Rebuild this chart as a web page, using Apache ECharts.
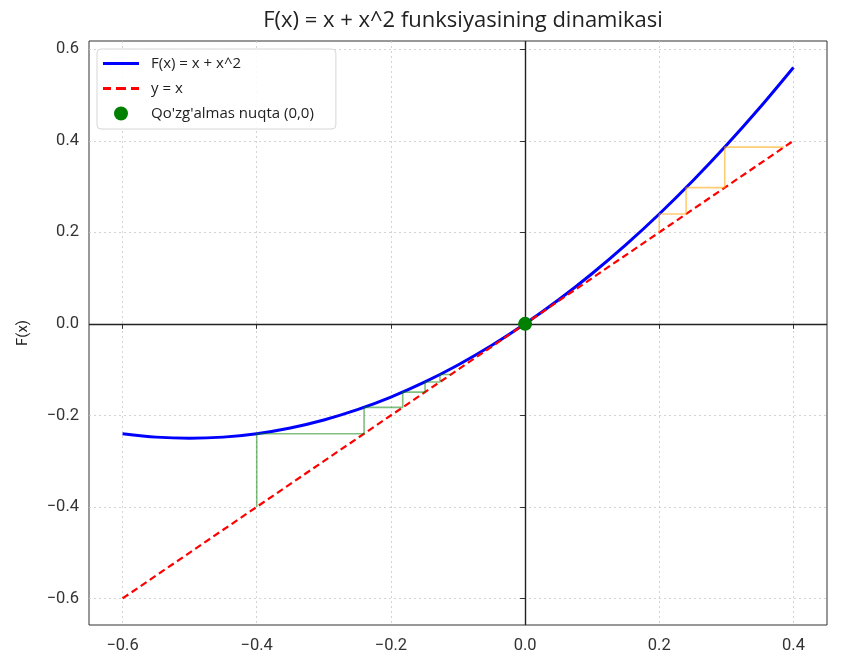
<!DOCTYPE html>
<html>
<head>
<meta charset="utf-8">
<script src="https://cdn.jsdelivr.net/npm/echarts@6/dist/echarts.min.js"></script>
<style>
  html, body { margin: 0; padding: 0; background: #fff; }
  #chart { width: 847px; height: 661px; }
</style>
</head>
<body>
<div id="chart"></div>
<script>
// F(x) = x + x^2
var curveX = [-0.6, -0.55, -0.5, -0.45, -0.4, -0.35, -0.3, -0.25, -0.2, -0.15, -0.1, -0.05, 0,
              0.05, 0.1, 0.15, 0.2, 0.25, 0.3, 0.35, 0.4];
var curveY = [-0.24, -0.2475, -0.25, -0.2475, -0.24, -0.2275, -0.21, -0.1875, -0.16, -0.1275, -0.09, -0.0475, 0,
              0.0525, 0.11, 0.1725, 0.24, 0.3125, 0.39, 0.4725, 0.56];
// y = x
var diagX = [-0.6, 0.4];
var diagY = [-0.6, 0.4];
// cobweb steps
var orangeX = [0.2, 0.2, 0.24, 0.24, 0.2976, 0.2976, 0.3862];
var orangeY = [0.2, 0.24, 0.24, 0.2976, 0.2976, 0.3862, 0.3862];
var greenX = [-0.4, -0.4, -0.24, -0.24, -0.1824, -0.1824, -0.1491, -0.1491, -0.1269, -0.1269, -0.1108];
var greenY = [-0.4, -0.24, -0.24, -0.1824, -0.1824, -0.1491, -0.1491, -0.1269, -0.1269, -0.1108, -0.1108];
var fixedPoint = [0, 0];
var xTicks = [-0.6, -0.4, -0.2, 0.0, 0.2, 0.4];
var yTicks = [-0.6, -0.4, -0.2, 0.0, 0.2, 0.4, 0.6];

var FONT = 'Roboto, "Open Sans", sans-serif';
var WIDE = '"Open Sans", Roboto, sans-serif';
var LINE_ICON = 'path://M0,0 L36,0 L36,3 L0,3 Z';
var DASH_ICON = 'path://M0,0 L8,0 L8,3 L0,3 Z M13,0 L23,0 L23,3 L13,3 Z M28,0 L36,0 L36,3 L28,3 Z';

function pairs(xs, ys) {
    return xs.map(function (x, i) { return [x, ys[i]]; });
}
function fmt(v) {
    return v.toFixed(1).replace('-', '\u2212');
}

var chart = echarts.init(document.getElementById('chart'), null, { renderer: 'canvas' });

var axisCommon = {
    type: 'value',
    axisLine: { show: false },
    axisTick: { show: true, length: 5, lineStyle: { color: '#333', width: 1 } },
    axisLabel: { color: '#333', fontSize: 16.5, fontFamily: FONT, formatter: fmt },
    splitLine: { show: true, lineStyle: { color: '#c8c8c8', type: [2, 3], width: 0.8 } }
};

var option = {
    animation: false,
    backgroundColor: '#fff',
    title: {
        text: 'F(x) = x + x^2 funksiyasining dinamikasi',
        left: 458, top: 5, textAlign: 'center',
        textStyle: { fontSize: 22, fontWeight: 'normal', color: '#222', fontFamily: WIDE }
    },
    grid: {
        left: 89, right: 20, top: 41, bottom: 36,
        show: true, borderColor: '#333', borderWidth: 1, backgroundColor: 'transparent'
    },
    legend: {
        orient: 'vertical', left: 97, top: 49,
        data: [
            { name: 'F(x) = x + x^2', icon: LINE_ICON },
            { name: 'y = x', icon: DASH_ICON },
            { name: "Qo'zg'almas nuqta (0,0)", icon: 'circle' }
        ],
        backgroundColor: 'rgba(255,255,255,0.85)',
        borderColor: '#d6d6d6', borderWidth: 1, borderRadius: 4,
        padding: [7, 22, 8, 6], itemGap: 10, itemWidth: 36, itemHeight: 14,
        textStyle: { fontSize: 15, color: '#222', fontFamily: WIDE, padding: [0, 0, 0, 7] }
    },
    xAxis: Object.assign({}, axisCommon, {
        min: -0.65, max: 0.45,
        axisTick: Object.assign({}, axisCommon.axisTick, { customValues: xTicks }),
        axisLabel: Object.assign({}, axisCommon.axisLabel, { customValues: xTicks, margin: 12 })
    }),
    yAxis: Object.assign({}, axisCommon, {
        min: -0.658, max: 0.618,
        name: 'F(x)', nameLocation: 'middle', nameGap: 58, nameRotate: 90,
        nameTextStyle: { fontSize: 15, color: '#222', fontFamily: FONT },
        axisTick: Object.assign({}, axisCommon.axisTick, { customValues: yTicks }),
        axisLabel: Object.assign({}, axisCommon.axisLabel, { customValues: yTicks, margin: 10 })
    }),
    series: [
        {
            name: 'F(x) = x + x^2', type: 'line', smooth: 0.3, symbol: 'none', z: 3,
            data: pairs(curveX, curveY),
            lineStyle: { color: '#0000ff', width: 3 },
            itemStyle: { color: '#0000ff' },
            markLine: {
                silent: true, symbol: 'none', label: { show: false },
                lineStyle: { color: '#222', width: 1.4, type: 'solid' },
                data: [{ xAxis: 0 }, { yAxis: 0 }]
            }
        },
        {
            name: 'y = x', type: 'line', symbol: 'none', z: 4,
            data: pairs(diagX, diagY),
            lineStyle: { color: '#ff0000', width: 2.2, type: [7, 4] },
            itemStyle: { color: '#ff0000' }
        },
        {
            name: 'orange', type: 'line', symbol: 'none', z: 5,
            data: pairs(orangeX, orangeY),
            lineStyle: { color: 'rgba(255,165,0,0.55)', width: 1.6 }
        },
        {
            name: 'green', type: 'line', symbol: 'none', z: 5,
            data: pairs(greenX, greenY),
            lineStyle: { color: 'rgba(0,128,0,0.5)', width: 1.6 }
        },
        {
            name: "Qo'zg'almas nuqta (0,0)", type: 'scatter', symbol: 'circle', symbolSize: 14, z: 6,
            data: [fixedPoint],
            itemStyle: { color: '#008000', opacity: 1 }
        }
    ]
};

chart.setOption(option);
window.addEventListener('resize', function () { chart.resize(); });
</script>
</body>
</html>
